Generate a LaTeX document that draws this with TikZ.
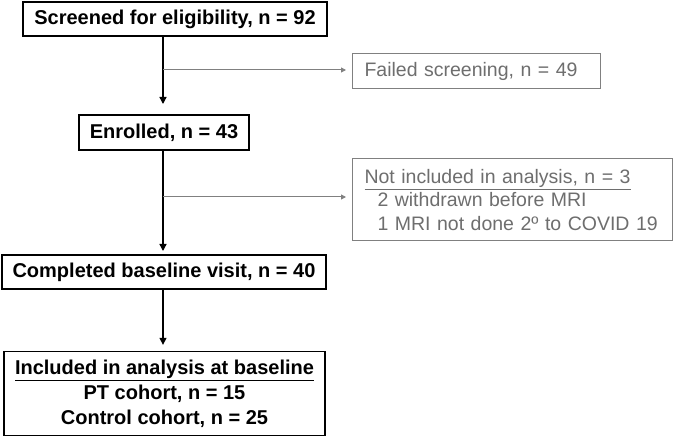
\documentclass[tikz,border=0pt]{standalone}
\usepackage{fontspec}
\setmainfont{Liberation Sans}
\usetikzlibrary{arrows.meta,positioning}
\definecolor{gline}{RGB}{128,128,128}
\definecolor{gtext}{RGB}{110,110,110}
\tikzset{
  mainbox/.style={draw=black,line width=1.3pt,fill=white,inner sep=0pt,font=\fontsize{20}{25}\selectfont\bfseries,align=center},
  sidebox/.style={draw=gline,line width=1pt,fill=white,inner xsep=12pt,inner ysep=0pt,font=\fontsize{19.5}{24}\selectfont,text=gtext,align=left,anchor=west},
  mainarrow/.style={line width=1.3pt,-{Triangle[length=7pt,width=7pt]}},
  sidearrow/.style={draw=gline,line width=1pt,-{Triangle[length=5pt,width=5pt]}}
}
\begin{document}
\begin{tikzpicture}[x=1pt,y=-1pt]
\useasboundingbox (0,0) rectangle (673,438);
\node[mainbox,minimum width=304pt,minimum height=34pt] (screen) at (175,19) {Screened for eligibility, n = 92};
\node[sidebox,minimum height=35pt,text width=224pt] (failed) at (352,71.5) {Failed screening, n = 49};
\node[sidebox,minimum height=82pt,text width=296pt] (notinc) at (352,200) {\underline{Not included in analysis, n = 3}\\[-1pt]\hspace*{13pt}2 withdrawn before MRI\\\hspace*{13pt}1 MRI not done 2º to COVID 19};
\node[mainbox,minimum width=170pt,minimum height=35pt] (enrol) at (164,132.5) {Enrolled, n = 43};
\node[mainbox,minimum width=324pt,minimum height=34pt] (compl) at (164,272) {Completed baseline visit, n = 40};
\node[mainbox,minimum width=321pt,minimum height=84pt] (incl) at (164.5,393.5) {\underline{Included in analysis at baseline}\\PT cohort, n = 15\\Control cohort, n = 25};
\coordinate (s1) at (163,36);
\coordinate (e1) at (163,115);
\coordinate (b1) at (163,70);
\coordinate (s2) at (163,150);
\coordinate (e2) at (163,255);
\coordinate (b2) at (163,197);
\draw[mainarrow,shorten >=11pt] (s1) -- (e1);
\draw[mainarrow,shorten >=4pt] (s2) -- (e2);
\draw[mainarrow,shorten >=6pt] (compl.south -| s1) -- (incl.north -| s1);
\draw[sidearrow,shorten >=6pt] (b1) -- (b1 -| failed.west);
\draw[sidearrow,shorten >=6pt] (b2) -- (b2 -| notinc.west);
\end{tikzpicture}
\end{document}
